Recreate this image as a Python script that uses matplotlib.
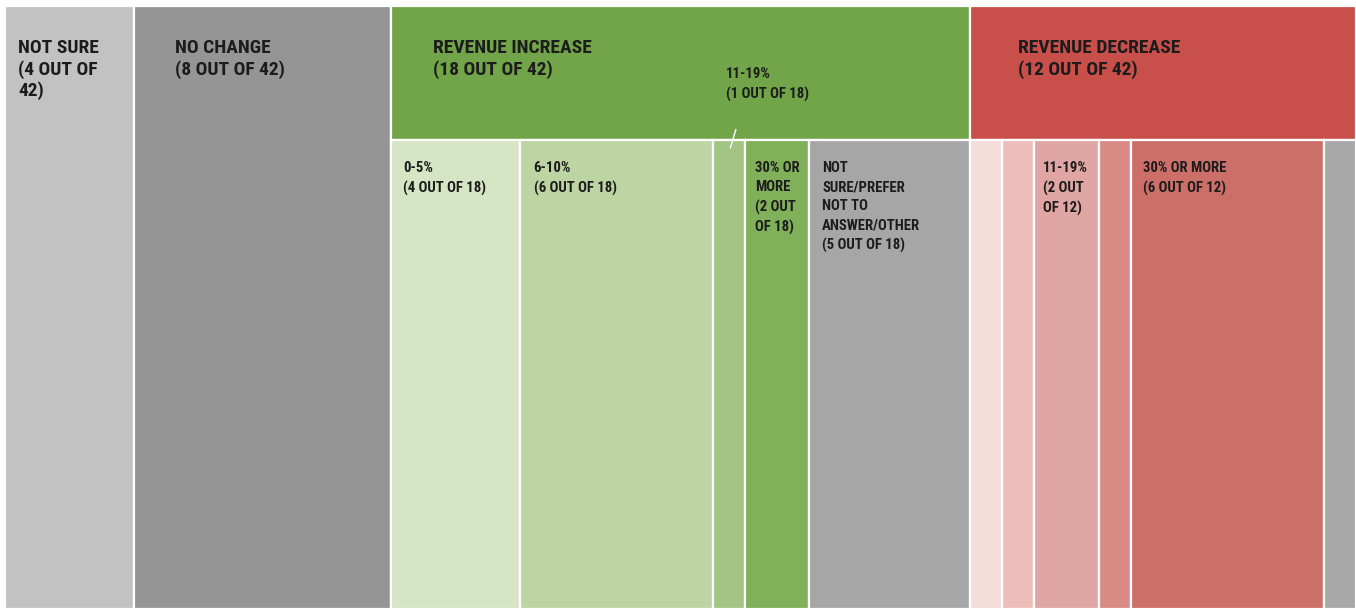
import matplotlib
matplotlib.use("Agg")
import matplotlib.pyplot as plt
from matplotlib.patches import Rectangle
from matplotlib.transforms import offset_copy

# Top-level groups (respondents out of 42)
group_names = ["NOT SURE", "NO CHANGE", "REVENUE INCREASE", "REVENUE DECREASE"]
group_counts = [4, 8, 18, 12]
group_colors = ["#c2c2c2", "#959595", "#72a54a", "#c9504a"]
group_labels = ["NOT SURE\n(4 OUT OF\n42)", "NO CHANGE\n(8 OUT OF 42)",
                "REVENUE INCREASE\n(18 OUT OF 42)", "REVENUE DECREASE\n(12 OUT OF 42)"]

# Breakdown of revenue increase (out of 18)
inc_names = ["0-5%", "6-10%", "11-19%", "30% OR MORE", "NOT SURE/OTHER"]
inc_counts = [4, 6, 1, 2, 5]
inc_colors = ["#d6e5c4", "#bdd4a3", "#a2c584", "#80b05a", "#a6a6a6"]
inc_labels = ["0-5%\n(4 OUT OF 18)", "6-10%\n(6 OUT OF 18)", "",
              "30% OR\nMORE\n(2 OUT\nOF 18)",
              "NOT\nSURE/PREFER\nNOT TO\nANSWER/OTHER\n(5 OUT OF 18)"]

# Breakdown of revenue decrease (out of 12)
dec_names = ["0-5%", "6-10%", "11-19%", "20-29%", "30% OR MORE", "NOT SURE/OTHER"]
dec_counts = [1, 1, 2, 1, 6, 1]
dec_colors = ["#f4dcd9", "#ecbdb9", "#e0a6a3", "#d98b86", "#cd6f69", "#a8a8a8"]
dec_labels = ["", "", "11-19%\n(2 OUT\nOF 12)", "", "30% OR MORE\n(6 OUT OF 12)", ""]

W, H = 1356, 611
fig = plt.figure(figsize=(W / 100, H / 100), dpi=100)
ax = fig.add_axes([5 / W, 2 / H, 1 - 5 / W, 1 - 8 / H])
ax.set_xlim(0, sum(group_counts))
ax.set_ylim(0, 1)
ax.axis("off")

header_bottom = 0.778
font = ["Roboto Condensed", "Barlow Condensed", "DejaVu Sans"]
edge = dict(edgecolor="white", linewidth=1.6)


def label(x, y, text, dx, dy, size, spacing):
    tr = offset_copy(ax.transData, fig=fig, x=dx, y=-dy, units="dots")
    ax.text(x, y, text, transform=tr, ha="left", va="top", fontsize=size,
            fontweight="bold", family=font, color="#1c1c1c",
            linespacing=spacing)


def breakdown(x0, width, counts, colors, labels, offsets):
    total = sum(counts)
    x = x0
    for c, col, lab, off in zip(counts, colors, labels, offsets):
        w = width * c / total
        ax.add_patch(Rectangle((x, 0), w, header_bottom, facecolor=col, **edge))
        if lab:
            label(x, header_bottom, lab, off, 21, 10.6, 1.48)
        x += w


x = 0
group_offsets = [13, 41, 42, 48]
for n, c, col, lab, off in zip(group_names, group_counts, group_colors,
                               group_labels, group_offsets):
    if n.startswith("REVENUE"):
        ax.add_patch(Rectangle((x, header_bottom), c, 1 - header_bottom,
                               facecolor=col, **edge))
        if n == "REVENUE INCREASE":
            breakdown(x, c, inc_counts, inc_colors, inc_labels,
                      [12, 14, 0, 10, 13])
            # callout for the narrow 11-19% slice
            x_small = x + c * (inc_counts[0] + inc_counts[1]) / sum(inc_counts)
            label(x_small, 1, "11-19%\n(1 OUT OF 18)", 13, 61, 10.6, 1.48)
            w_small = c * inc_counts[2] / sum(inc_counts)
            ax.plot([x_small + w_small * 0.72, x_small + w_small * 0.55],
                    [0.795, 0.765], color="white", lw=1)
        else:
            breakdown(x, c, dec_counts, dec_colors, dec_labels,
                      [0, 0, 9, 0, 12, 0])
    else:
        ax.add_patch(Rectangle((x, 0), c, 1, facecolor=col, **edge))
    label(x, 1, lab, off, 33, 14, 1.2)
    x += c

fig.savefig("out.png", dpi=100, facecolor="white")
